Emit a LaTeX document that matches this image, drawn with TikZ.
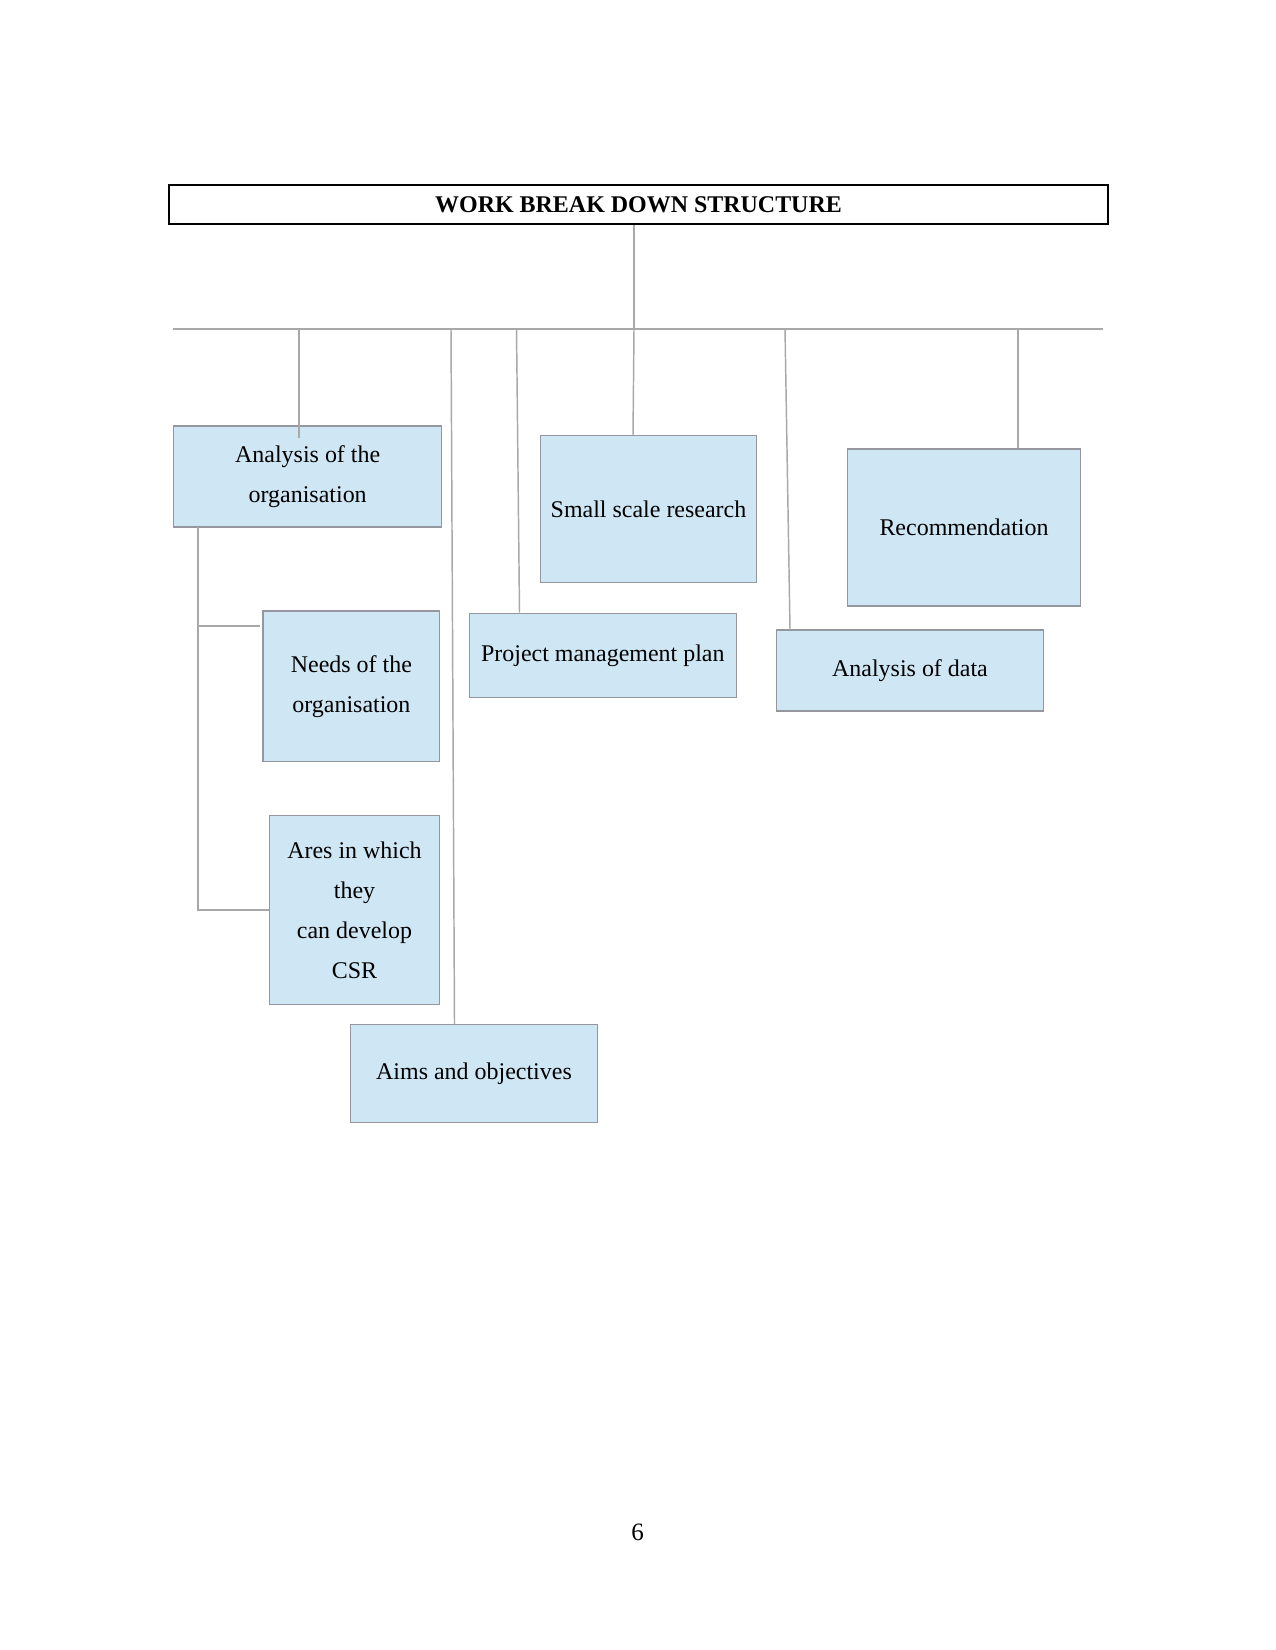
\documentclass[tikz,border=0pt]{standalone}
\usepackage{fontspec}
\setmainfont{Liberation Serif}
\usepackage{tikz}
\usetikzlibrary{positioning, calc}
\definecolor{boxFill}{RGB}{207,231,245}
\definecolor{boxEdge}{RGB}{148,152,158}
\definecolor{linkGray}{RGB}{168,168,168}
\def\px{0.48pt}
\tikzset{
    titleBox/.style={rectangle, draw=black, line width=1pt, inner sep=0pt, font=\fontsize{11.5}{14}\selectfont\bfseries},
    wbsBox/.style 2 args={rectangle, draw=boxEdge, fill=boxFill, line width=0.7pt, inner sep=0pt, align=center,
        font=\fontsize{11.5}{19.2}\selectfont, minimum width=#1*\px, minimum height=#2*\px},
    linkLine/.style={draw=linkGray, line width=0.7pt},
    pageNum/.style={font=\fontsize{12}{14}\selectfont}
}

\begin{document}
\begin{tikzpicture}[x=0.48pt, y=-0.48pt]

        \useasboundingbox[fill=white] (0,0) rectangle (1275,1650);

        % Title
        \node[titleBox, minimum width=939*\px, minimum height=39*\px] (title) at (638.5,204.5) {WORK BREAK DOWN STRUCTURE};

        % Coordinates on the bar
        \coordinate (barL) at (173,329);
        \coordinate (barR) at (1103,329);
        \coordinate (d1) at (299,329);
        \coordinate (d2) at (451,329);
        \coordinate (d3) at (516.5,329);
        \coordinate (d4) at (634,329);
        \coordinate (d5) at (785,329);
        \coordinate (d6) at (1018,329);

        % Boxes
        \node[wbsBox={268}{101}] (anaOrg) at (307.7,476.5) {Analysis of the\\organisation};
        \node[wbsBox={216}{147}] (small) at (648.5,509) {Small scale research};
        \node[wbsBox={232.5}{157}] (recom) at (964,527.6) {Recommendation};
        \node[wbsBox={176.7}{150.4}] (needs) at (351.4,686.4) {Needs of the\\organisation};
        \node[wbsBox={267}{84}] (proj) at (602.8,655.4) {Project management plan};
        \node[wbsBox={267}{81}] (anaData) at (910,670.6) {Analysis of data};
        \node[wbsBox={170.4}{189.4}] (ares) at (354.5,910) {Ares in which\\they\\can develop\\CSR};
        \node[wbsBox={247}{98}] (aims) at (474,1073.6) {Aims and objectives};

        % Connectors
        \draw[linkLine] (title.south -| d4) -- (d4);
        \draw[linkLine] (barL) -- (barR);
        \draw[linkLine] (d1) -- ($(d1 |- anaOrg.north)+(0,13)$);
        \draw[linkLine] (d2) -- ($(aims.north -| d2)+(3.5,0)$);
        \draw[linkLine] (d3) -- ($(proj.north -| d3)+(3,0)$);
        \draw[linkLine] (d4) -- ($(small.north -| d4)+(-1,0)$);
        \draw[linkLine] (d5) -- ($(anaData.north -| d5)+(5,0)$);
        \draw[linkLine] (d6) -- (d6 |- recom.north);

        % Left bracket
        \coordinate (brkTop) at (198,527);
        \coordinate (needsEnd) at (260,626);
        \draw[linkLine] (brkTop) |- (ares.west);
        \draw[linkLine] (brkTop |- needsEnd) -- (needsEnd);

        % Page number
        \node[pageNum] (page) at (637.5,1532) {6};

\end{tikzpicture}
\end{document}
